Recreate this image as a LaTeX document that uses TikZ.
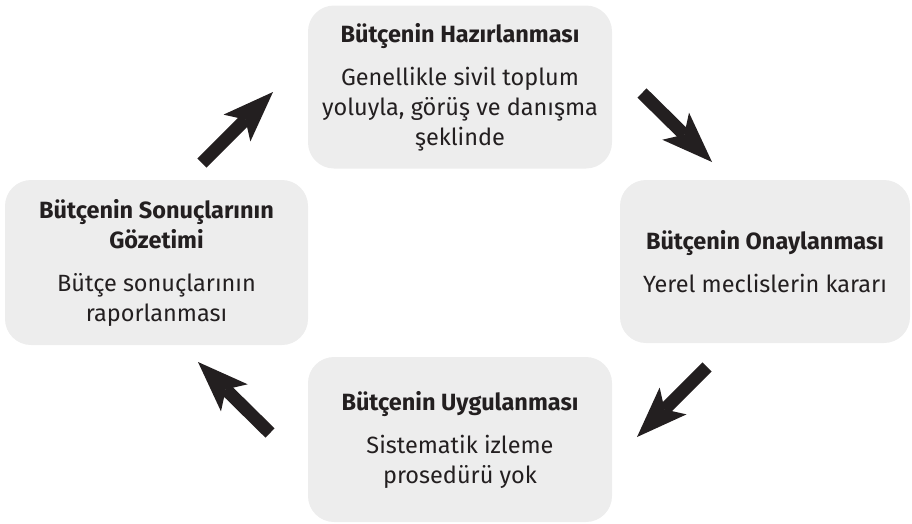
\documentclass[tikz,border=0pt]{standalone}
\usepackage{fontspec}
\setmainfont{Fira Sans}
\usetikzlibrary{arrows.meta}

\definecolor{boxgray}{HTML}{EDEDED}
\definecolor{inkdark}{HTML}{231F20}

\begin{document}
\begin{tikzpicture}[x=1pt, y=-1pt,
    stage/.style={fill=boxgray, rounded corners=26pt, align=center, text=inkdark, inner sep=0pt,
        font=\fontsize{23.5}{30}\selectfont},
    flow/.style={line width=13pt, inkdark,
        -{Stealth[length=51pt, width=38pt, inset=12pt, line width=0pt]}}]
    \useasboundingbox (0,0) rectangle (912,523);

    % Stages of the budget cycle
    \node[stage, minimum width=304pt, minimum height=163pt] (prep) at (460,87)
        {\textbf{Bütçenin Hazırlanması}\\[13pt]
         Genellikle sivil toplum\\ yoluyla, görüş ve danışma\\ şeklinde};
    \node[stage, minimum width=290pt, minimum height=163pt] (approve) at (765,261.5)
        {\textbf{Bütçenin Onaylanması}\\[13pt] Yerel meclislerin kararı};
    \node[stage, minimum width=304pt, minimum height=165pt] (apply) at (460,439.5)
        {\textbf{Bütçenin Uygulanması}\\[13pt] Sistematik izleme\\ prosedürü yok};
    \node[stage, minimum width=303pt, minimum height=165pt] (watch) at (156.5,262.5)
        {\textbf{Bütçenin Sonuçlarının}\\ \textbf{Gözetimi}\\[13pt] Bütçe sonuçlarının\\ raporlanması};

    % Arrow ends between the stages
    \coordinate (watch-out) at (202,163);
    \coordinate (prep-in) at (273,92);
    \coordinate (prep-out) at (642,93);
    \coordinate (approve-in) at (712,162);
    \coordinate (approve-out) at (707,367);
    \coordinate (apply-in) at (637,437);
    \coordinate (apply-out) at (270,433);
    \coordinate (watch-in) at (198,362);

    % Arrows
    \draw[flow] (watch-out) -- (prep-in);
    \draw[flow] (prep-out) -- (approve-in);
    \draw[flow] (approve-out) -- (apply-in);
    \draw[flow] (apply-out) -- (watch-in);
\end{tikzpicture}
\end{document}
